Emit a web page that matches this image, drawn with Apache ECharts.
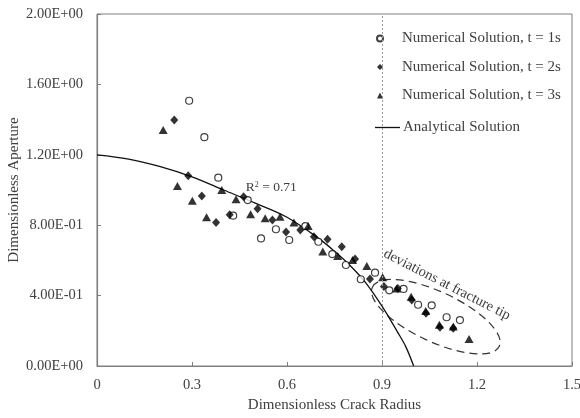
<!DOCTYPE html>
<html>
<head>
<meta charset="utf-8">
<script src="https://cdn.jsdelivr.net/npm/echarts@6/dist/echarts.min.js"></script>
<style>
  html, body { margin: 0; padding: 0; background: #fff; }
  #chart { width: 580px; height: 418px; }
</style>
</head>
<body>
<div id="chart"></div>
<script>
// values
const t1Points = [
  [0.291, 1.507], [0.339, 1.30], [0.383, 1.07], [0.43, 0.854], [0.476, 0.943],
  [0.518, 0.725], [0.565, 0.777], [0.607, 0.716], [0.658, 0.795], [0.699, 0.706],
  [0.743, 0.636], [0.786, 0.574], [0.833, 0.493], [0.878, 0.53], [0.923, 0.43],
  [0.968, 0.438], [1.014, 0.348], [1.057, 0.345], [1.104, 0.277], [1.146, 0.261]
]
const t2Points = [
  [0.244, 1.398], [0.288, 1.081], [0.331, 0.966], [0.376, 0.815], [0.419, 0.86],
  [0.463, 0.962], [0.507, 0.894], [0.554, 0.83], [0.597, 0.762], [0.642, 0.773],
  [0.685, 0.735], [0.728, 0.72], [0.773, 0.678], [0.815, 0.608], [0.862, 0.494],
  [0.906, 0.451], [0.95, 0.441], [0.994, 0.375], [1.039, 0.30], [1.083, 0.22],
  [1.125, 0.214]
]
const t3Points = [
  [0.209, 1.341], [0.254, 1.023], [0.301, 0.939], [0.346, 0.845], [0.394, 1.0],
  [0.439, 0.947], [0.485, 0.862], [0.531, 0.839], [0.578, 0.848], [0.622, 0.816],
  [0.667, 0.795], [0.713, 0.65], [0.76, 0.625], [0.807, 0.602], [0.852, 0.568],
  [0.902, 0.504], [0.946, 0.441], [0.992, 0.394], [1.038, 0.312], [1.081, 0.235],
  [1.125, 0.225], [1.175, 0.153]
]
const analyticalPoints = [
  [0, 1.2], [0.1, 1.176], [0.2, 1.133], [0.3, 1.075], [0.4, 1.0], [0.5, 0.925],
  [0.6, 0.845], [0.7, 0.725], [0.75, 0.652], [0.8, 0.57], [0.85, 0.47],
  [0.9, 0.34], [0.95, 0.19], [0.975, 0.11], [1.0, 0.0]
]
const seriesNames = [
  'Numerical Solution, t = 1s',
  'Numerical Solution, t = 2s',
  'Numerical Solution, t = 3s',
  'Analytical Solution'
]
const fractureTipX = 0.9
const r2Text = '0.71'
const r2Anchor = [0.47, 1.012]
const noteText = 'deviations at fracture tip'
const noteAnchor = [1.105, 0.462]
const ellipseCenter = [1.07, 0.28]

const FONT = 'Liberation Serif'
const TEXT = '#404040'
const AXIS = '#7f7f7f'

function sciLabel(v) {
  if (v === 0) return '0.00E+00'
  let e = Math.floor(Math.log10(v) + 1e-9)
  const m = v / Math.pow(10, e)
  const sign = e < 0 ? '-' : '+'
  e = Math.abs(e)
  return m.toFixed(2) + 'E' + sign + (e < 10 ? '0' + e : e)
}

const chart = echarts.init(document.getElementById('chart'))

const option = {
  backgroundColor: '#fff',
  animation: false,
  textStyle: { fontFamily: FONT },
  grid: {
    left: 97, right: 8, top: 14, bottom: 52,
    outerBoundsMode: 'none',
    containLabel: false,
    show: true, borderColor: AXIS, borderWidth: 1
  },
  legend: [{
    data: seriesNames.slice(0, 3),
    orient: 'vertical',
    left: 371, top: 26,
    itemWidth: 6, itemHeight: 6, itemGap: 13.5,
    textStyle: { fontFamily: FONT, fontSize: 15, color: TEXT, padding: [0, 0, 0, 14] },
    selectedMode: false
  }, {
    data: [{ name: seriesNames[3], icon: 'rect' }],
    orient: 'vertical',
    left: 370, top: 115,
    itemWidth: 25, itemHeight: 1.3,
    textStyle: { fontFamily: FONT, fontSize: 15, color: TEXT, padding: [0, 0, 0, -2] },
    selectedMode: false
  }],
  xAxis: {
    type: 'value',
    min: 0, max: 1.5, interval: 0.3,
    name: 'Dimensionless Crack Radius',
    nameLocation: 'middle', nameGap: 32,
    nameMoveOverlap: false,
    nameTextStyle: { fontFamily: FONT, fontSize: 15, color: TEXT },
    axisLine: { lineStyle: { color: AXIS, width: 1.2 } },
    axisTick: { inside: true, length: 4, lineStyle: { color: AXIS } },
    axisLabel: { fontFamily: FONT, fontSize: 14.5, color: TEXT, margin: 12 },
    splitLine: { show: false }
  },
  yAxis: {
    type: 'value',
    min: 0, max: 2, interval: 0.4,
    name: 'Dimensionless Aperture',
    nameLocation: 'middle', nameGap: 75,
    nameMoveOverlap: false,
    nameTextStyle: { fontFamily: FONT, fontSize: 15, color: TEXT },
    axisLine: { lineStyle: { color: AXIS, width: 1.2 } },
    axisTick: { inside: true, length: 4, lineStyle: { color: AXIS } },
    axisLabel: { fontFamily: FONT, fontSize: 14.5, color: TEXT, margin: 14, formatter: sciLabel },
    splitLine: { show: false }
  },
  series: [
    {
      type: 'scatter',
      name: seriesNames[0],
      data: t1Points,
      symbol: 'circle',
      symbolSize: 7,
      z: 3,
      itemStyle: { color: '#fff', borderColor: '#111', borderWidth: 1.2 }
    },
    {
      type: 'scatter',
      name: seriesNames[1],
      data: t2Points,
      symbol: 'diamond',
      symbolSize: [8, 9],
      z: 3,
      itemStyle: { color: '#000' }
    },
    {
      type: 'scatter',
      name: seriesNames[2],
      data: t3Points,
      symbol: 'triangle',
      symbolSize: [9, 8],
      z: 3,
      itemStyle: { color: '#000' }
    },
    {
      type: 'line',
      name: seriesNames[3],
      data: analyticalPoints,
      smooth: 0.35,
      symbol: 'none',
      z: 2,
      itemStyle: { color: '#111' },
      lineStyle: { color: '#111', width: 1.3 },
      markLine: {
        silent: true,
        symbol: 'none',
        label: { show: false },
        lineStyle: { color: '#999', type: [2, 2], width: 1 },
        data: [{ xAxis: fractureTipX }]
      }
    },
    {
      // dashed ellipse around the tip region
      type: 'custom',
      silent: true,
      z: 1,
      data: [ellipseCenter],
      renderItem: function (params, api) {
        const c = api.coord([api.value(0), api.value(1)])
        return {
          type: 'ellipse',
          x: c[0], y: c[1],
          rotation: -25 * Math.PI / 180,
          shape: { cx: 0, cy: 0, rx: 70, ry: 25 },
          style: { fill: 'none', stroke: '#333', lineWidth: 1.2, lineDash: [8, 5] }
        }
      }
    }
  ]
}

chart.setOption(option)

const r2Pos = chart.convertToPixel({ gridIndex: 0 }, r2Anchor)
const notePos = chart.convertToPixel({ gridIndex: 0 }, noteAnchor)

chart.setOption({
  graphic: [{
    type: 'text',
    x: r2Pos[0], y: r2Pos[1],
    z: 10,
    style: {
      text: '{a|R}{s|2}{a| = ' + r2Text + '}',
      verticalAlign: 'middle',
      rich: {
        a: { fontFamily: FONT, fontSize: 13.5, fill: TEXT },
        s: { fontFamily: FONT, fontSize: 8, fill: TEXT, verticalAlign: 'top', padding: [0, 0, 6, 0] }
      }
    }
  }, {
    type: 'text',
    x: notePos[0], y: notePos[1],
    rotation: -27 * Math.PI / 180,
    z: 10,
    style: {
      text: noteText,
      fontFamily: FONT, fontSize: 14.4, fill: TEXT,
      align: 'center', verticalAlign: 'middle'
    }
  }]
})
</script>
</body>
</html>
